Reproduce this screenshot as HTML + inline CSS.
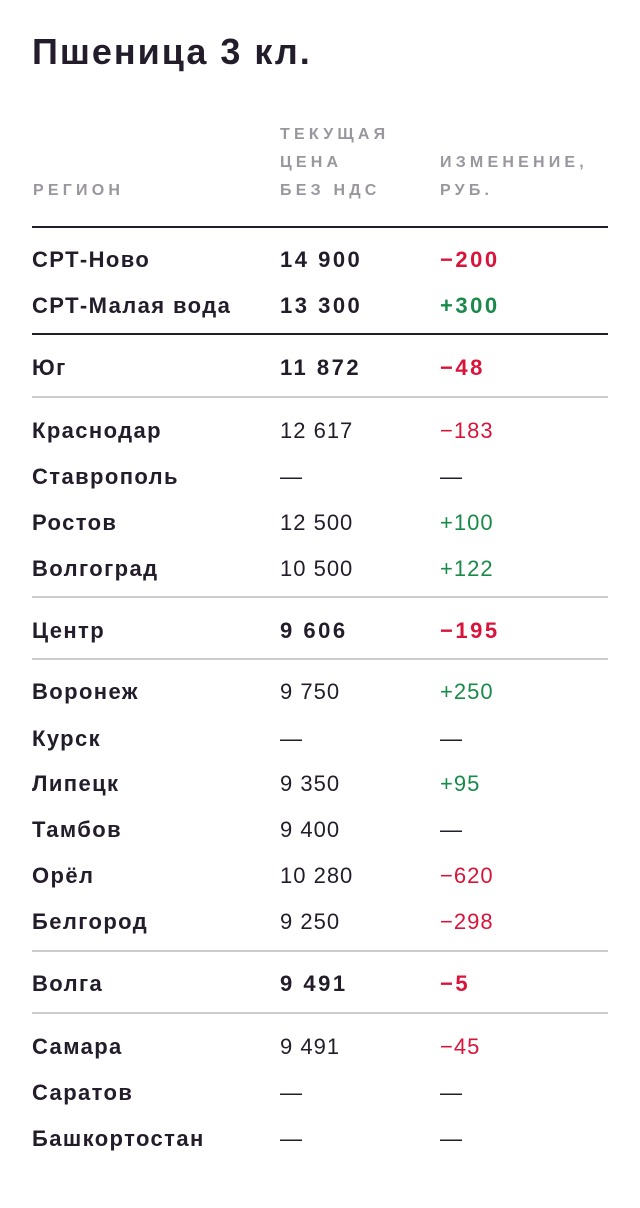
<!DOCTYPE html>
<html><head><meta charset="utf-8"><style>
html,body{margin:0;padding:0;background:#fff;width:640px;height:1208px;overflow:hidden}
body{position:relative;font-family:"Liberation Sans","DejaVu Sans",sans-serif;color:#231c2a}
h1{position:absolute;left:32px;top:34px;margin:0;font-size:36px;font-weight:bold;line-height:1;letter-spacing:2px}
.h{font-size:16px;font-weight:bold;color:#9a969e;letter-spacing:4.2px;line-height:28px;position:absolute}
.r{font-size:22px;position:absolute;line-height:1;white-space:nowrap;letter-spacing:1px}
.n{font-weight:bold;letter-spacing:1.4px}
.b{font-weight:bold;letter-spacing:2.5px}
.red{color:#d9143a}.grn{color:#1a8a4a}
.ln{position:absolute;left:32px;width:576px}
</style></head><body>
<h1>Пшеница 3 кл.</h1>
<div class="h" style="left:33px;top:177px">РЕГИОН</div>
<div class="h" style="left:280px;top:121px">ТЕКУЩАЯ<br>ЦЕНА<br>БЕЗ НДС</div>
<div class="h" style="left:440px;top:149px">ИЗМЕНЕНИЕ,<br>РУБ.</div>
<div class="ln" style="top:226px;height:2px;background:#231c2a"></div>
<div class="ln" style="top:333px;height:2px;background:#231c2a"></div>
<div class="ln" style="top:396px;height:2px;background:#ccc"></div>
<div class="ln" style="top:596px;height:2px;background:#ccc"></div>
<div class="ln" style="top:658px;height:2px;background:#ccc"></div>
<div class="ln" style="top:950px;height:2px;background:#ccc"></div>
<div class="ln" style="top:1012px;height:2px;background:#ccc"></div>

<div class="r n" style="left:32px;top:249px">СРТ-Ново</div><div class="r b" style="left:280px;top:249px">14 900</div><div class="r b red" style="left:440px;top:249px">−200</div>
<div class="r n" style="left:32px;top:295px">СРТ-Малая вода</div><div class="r b" style="left:280px;top:295px">13 300</div><div class="r b grn" style="left:440px;top:295px">+300</div>
<div class="r n" style="left:32px;top:357px">Юг</div><div class="r b" style="left:280px;top:357px">11 872</div><div class="r b red" style="left:440px;top:357px">−48</div>
<div class="r n" style="left:32px;top:420px">Краснодар</div><div class="r" style="left:280px;top:420px">12 617</div><div class="r red" style="left:440px;top:420px">−183</div>
<div class="r n" style="left:32px;top:466px">Ставрополь</div><div class="r" style="left:280px;top:466px">—</div><div class="r" style="left:440px;top:466px">—</div>
<div class="r n" style="left:32px;top:512px">Ростов</div><div class="r" style="left:280px;top:512px">12 500</div><div class="r grn" style="left:440px;top:512px">+100</div>
<div class="r n" style="left:32px;top:558px">Волгоград</div><div class="r" style="left:280px;top:558px">10 500</div><div class="r grn" style="left:440px;top:558px">+122</div>
<div class="r n" style="left:32px;top:620px">Центр</div><div class="r b" style="left:280px;top:620px">9 606</div><div class="r b red" style="left:440px;top:620px">−195</div>
<div class="r n" style="left:32px;top:681px">Воронеж</div><div class="r" style="left:280px;top:681px">9 750</div><div class="r grn" style="left:440px;top:681px">+250</div>
<div class="r n" style="left:32px;top:728px">Курск</div><div class="r" style="left:280px;top:728px">—</div><div class="r" style="left:440px;top:728px">—</div>
<div class="r n" style="left:32px;top:773px">Липецк</div><div class="r" style="left:280px;top:773px">9 350</div><div class="r grn" style="left:440px;top:773px">+95</div>
<div class="r n" style="left:32px;top:819px">Тамбов</div><div class="r" style="left:280px;top:819px">9 400</div><div class="r" style="left:440px;top:819px">—</div>
<div class="r n" style="left:32px;top:865px">Орёл</div><div class="r" style="left:280px;top:865px">10 280</div><div class="r red" style="left:440px;top:865px">−620</div>
<div class="r n" style="left:32px;top:911px">Белгород</div><div class="r" style="left:280px;top:911px">9 250</div><div class="r red" style="left:440px;top:911px">−298</div>
<div class="r n" style="left:32px;top:973px">Волга</div><div class="r b" style="left:280px;top:973px">9 491</div><div class="r b red" style="left:440px;top:973px">−5</div>
<div class="r n" style="left:32px;top:1036px">Самара</div><div class="r" style="left:280px;top:1036px">9 491</div><div class="r red" style="left:440px;top:1036px">−45</div>
<div class="r n" style="left:32px;top:1082px">Саратов</div><div class="r" style="left:280px;top:1082px">—</div><div class="r" style="left:440px;top:1082px">—</div>
<div class="r n" style="left:32px;top:1128px">Башкортостан</div><div class="r" style="left:280px;top:1128px">—</div><div class="r" style="left:440px;top:1128px">—</div>
</body></html>
